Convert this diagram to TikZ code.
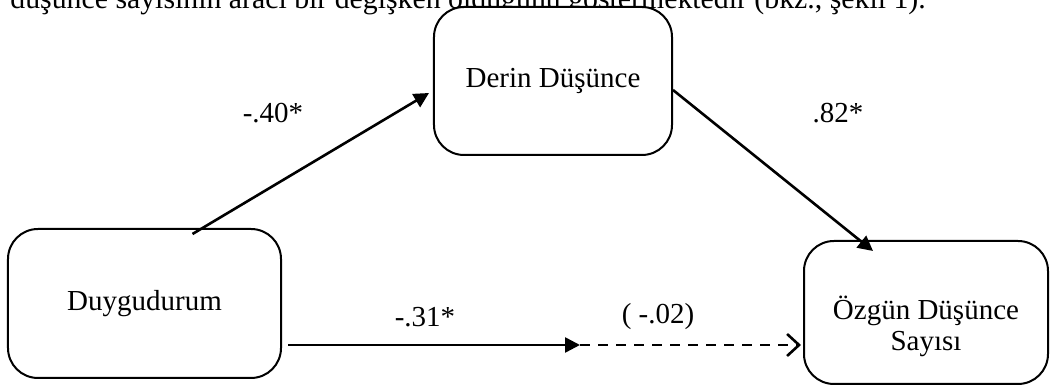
\documentclass[tikz,border=0pt]{standalone}
\usepackage{fontspec}
\setmainfont{Liberation Serif}
\usetikzlibrary{arrows.meta,positioning,calc}
\tikzset{
  varbox/.style={draw, line width=1bp, rounded corners=15bp, align=center,
                 font=\fontsize{14.5bp}{14.5bp}\selectfont, inner sep=0pt},
  coef/.style={font=\fontsize{14.5bp}{14.5bp}\selectfont, inner sep=0pt},
  path/.style={line width=1.3bp, -{Triangle[length=7.5bp, width=7.5bp]}},
  npath/.style={line width=1.3bp, dash pattern=on 5bp off 4bp,
                -{Straight Barb[length=6bp, width=11bp]}},
}

\begin{document}
\begin{tikzpicture}[x=0.5bp, y=-0.5bp]
    \useasboundingbox (0,0) rectangle (1051,392);
    % cut-off line of running text above the figure
    \node[coef, font=\fontsize{14.9bp}{14.9bp}\selectfont, anchor=base west] (txt) at (10,9)
      {düşünce sayısının aracı bir değişken olduğunu göstermektedir (bkz., şekil 1).};
    \node[varbox, minimum width=119bp, minimum height=74bp, fill=white] (derin) at (553,81) {Derin Düşünce};
    \node[varbox, minimum width=136.5bp, minimum height=74.5bp] (duygu) at (144.5,303.5) {Duygudurum};
    \node[varbox, minimum width=122bp, minimum height=71.5bp,
          label={[coef, align=center, yshift=-7bp]center:Özgün Düşünce\\[1bp] Sayısı}] (ozgun) at (926,312.5) {};
    \coordinate (mid) at (580,345);
    \draw[path] ([xshift=24bp, yshift=-3bp]duygu.north) -- ([xshift=-2bp, yshift=-6bp]derin.west);
    \draw[path] ([yshift=-4.5bp]derin.east) -- ([xshift=-26.5bp, yshift=-5.5bp]ozgun.north);
    \draw[path, shorten <=3bp] (duygu.east |- mid) -- (mid);
    \draw[npath, shorten >=1bp] (mid) -- (ozgun.west |- mid);
    \node[coef] (c1) at (273,113) {-.40*};
    \node[coef] (c2) at (838,113) {.82*};
    \node[coef] (c3) at (425,317) {-.31*};
    \node[coef] (c4) at (658,317) {( -.02)};
  \end{tikzpicture}
\end{document}
